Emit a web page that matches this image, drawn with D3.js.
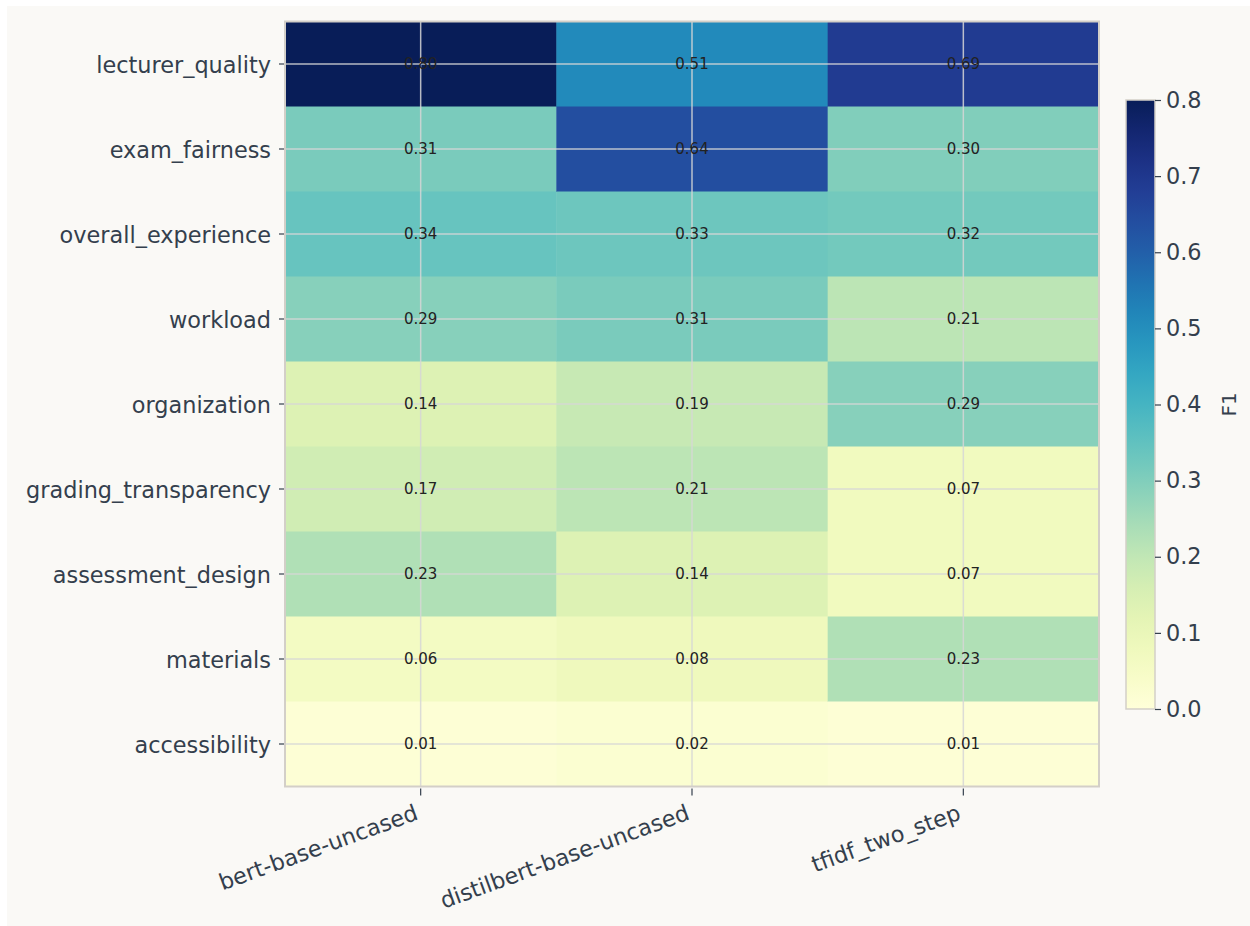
<!DOCTYPE html>
<html>
<head>
<meta charset="utf-8">
<script src="https://cdn.jsdelivr.net/npm/d3@7"></script>
<style>
  body { margin: 0; background: #ffffff; }
  svg { display: block; font-family: "DejaVu Sans", sans-serif; }
</style>
</head>
<body>
<svg id="chart" width="1250" height="926"></svg>
<script>
var aspects = ['lecturer_quality', 'exam_fairness', 'overall_experience', 'workload',
  'organization', 'grading_transparency', 'assessment_design', 'materials', 'accessibility'];
var models = ['bert-base-uncased', 'distilbert-base-uncased', 'tfidf_two_step'];

// F1 per aspect, one list per model
var bertF1 = [0.80, 0.31, 0.34, 0.29, 0.14, 0.17, 0.23, 0.06, 0.01];
var distilF1 = [0.51, 0.64, 0.33, 0.31, 0.19, 0.21, 0.14, 0.08, 0.02];
var tfidfF1 = [0.69, 0.30, 0.32, 0.21, 0.29, 0.07, 0.07, 0.23, 0.01];
var colorTicks = [0, 0.1, 0.2, 0.3, 0.4, 0.5, 0.6, 0.7, 0.8];

var seriesByModel = [bertF1, distilF1, tfidfF1];
var cells = [];
models.forEach(function(m, j) {
  aspects.forEach(function(a, i) {
    cells.push({model: m, aspect: a, value: seriesByModel[j][i]});
  });
});

var svg = d3.select('#chart');
var textColor = '#343f4d';
var spineColor = '#d3cfc8';
var tickFont = '22.4px';

svg.append('rect')
  .attr('x', 7).attr('y', 6)
  .attr('width', 1250).attr('height', 926)
  .attr('fill', '#faf9f6');

var margins = {top: 21.5, left: 285, right: 151, bottom: 139.5};
var plotW = 1250 - margins.left - margins.right;
var plotH = 926 - margins.top - margins.bottom;

var x = d3.scaleBand().domain(models).range([margins.left, margins.left + plotW]).padding(0);
var y = d3.scaleBand().domain(aspects).range([margins.top, margins.top + plotH]).padding(0);
var color = d3.scaleSequential(d3.interpolateYlGnBu).domain([0, 0.8]);

// cells
svg.append('g').selectAll('rect')
  .data(cells)
  .enter()
  .append('rect')
  .attr('x', function(d) { return x(d.model); })
  .attr('y', function(d) { return y(d.aspect); })
  .attr('width', x.bandwidth() + 0.5)
  .attr('height', y.bandwidth() + 0.5)
  .attr('fill', function(d) { return color(d.value); });

// grid lines at tick centers (drawn over the image)
var grid = svg.append('g').attr('stroke', '#d6d6d6').attr('stroke-opacity', 0.85).attr('stroke-width', 1.5);
models.forEach(function(m) {
  var cx = x(m) + x.bandwidth() / 2;
  grid.append('line').attr('x1', cx).attr('x2', cx)
    .attr('y1', margins.top).attr('y2', margins.top + plotH);
});
aspects.forEach(function(a) {
  var cy = y(a) + y.bandwidth() / 2;
  grid.append('line').attr('y1', cy).attr('y2', cy)
    .attr('x1', margins.left).attr('x2', margins.left + plotW);
});

// cell labels
svg.append('g').selectAll('text')
  .data(cells)
  .enter()
  .append('text')
  .attr('x', function(d) { return x(d.model) + x.bandwidth() / 2; })
  .attr('y', function(d) { return y(d.aspect) + y.bandwidth() / 2; })
  .attr('text-anchor', 'middle')
  .attr('dominant-baseline', 'central')
  .attr('font-size', '15px')
  .attr('fill', '#222222')
  .text(function(d) { return d.value.toFixed(2); });

// spines
svg.append('rect')
  .attr('x', margins.left).attr('y', margins.top)
  .attr('width', plotW).attr('height', plotH)
  .attr('fill', 'none').attr('stroke', spineColor).attr('stroke-width', 2);

// y axis
var yAxis = svg.append('g')
  .attr('transform', 'translate(' + margins.left + ',0)')
  .call(d3.axisLeft(y).tickSize(5).tickPadding(6));
yAxis.select('.domain').remove();
yAxis.selectAll('.tick line').attr('stroke', textColor).attr('stroke-width', 1.2).attr('transform', 'translate(-1,0)');
yAxis.selectAll('.tick text')
  .attr('fill', textColor)
  .attr('font-size', tickFont)
  .attr('font-family', '"DejaVu Sans", sans-serif')
  .attr('dx', '-3')
  .attr('dy', '0.42em');

// x axis
var xAxis = svg.append('g')
  .attr('transform', 'translate(0,' + (margins.top + plotH) + ')')
  .call(d3.axisBottom(x).tickSize(7).tickPadding(4));
xAxis.select('.domain').remove();
xAxis.selectAll('.tick line').attr('stroke', textColor).attr('stroke-width', 1.2).attr('transform', 'translate(0,2)');
xAxis.selectAll('.tick text')
  .attr('fill', textColor)
  .attr('font-size', tickFont)
  .attr('font-family', '"DejaVu Sans", sans-serif')
  .attr('text-anchor', 'end')
  .attr('dy', '0')
  .attr('transform', 'translate(-5,22) rotate(-20)');

// colorbar
var cb = {x: 1126, y: 100, w: 29, h: 609};
var cScale = d3.scaleLinear().domain([0, 0.8]).range([cb.y + cb.h, cb.y]);

var defs = svg.append('defs');
var grad = defs.append('linearGradient')
  .attr('id', 'cbgrad')
  .attr('x1', '0%').attr('y1', '100%')
  .attr('x2', '0%').attr('y2', '0%');
d3.range(0, 1.0001, 0.05).forEach(function(t) {
  grad.append('stop')
    .attr('offset', (t * 100) + '%')
    .attr('stop-color', color(t * 0.8));
});

svg.append('rect')
  .attr('x', cb.x).attr('y', cb.y)
  .attr('width', cb.w).attr('height', cb.h)
  .attr('fill', 'url(#cbgrad)')
  .attr('stroke', spineColor).attr('stroke-width', 1.5);

var cAxis = svg.append('g')
  .attr('transform', 'translate(' + (cb.x + cb.w) + ',0)')
  .call(d3.axisRight(cScale).tickValues(colorTicks).tickSize(6).tickPadding(5)
    .tickFormat(d3.format('.1f')));
cAxis.select('.domain').remove();
cAxis.selectAll('.tick line').attr('stroke', textColor).attr('stroke-width', 1.2);
cAxis.selectAll('.tick text')
  .attr('fill', textColor)
  .attr('font-size', tickFont)
  .attr('font-family', '"DejaVu Sans", sans-serif');

svg.append('text')
  .attr('transform', 'translate(1236,' + (cb.y + cb.h / 2) + ') rotate(-90)')
  .attr('text-anchor', 'middle')
  .attr('font-size', '20px')
  .attr('fill', textColor)
  .text('F1');
</script>
</body>
</html>
